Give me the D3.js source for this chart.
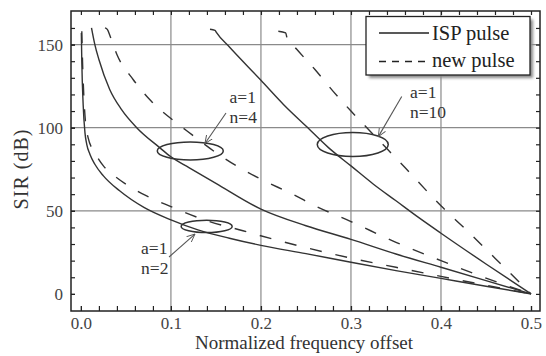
<!DOCTYPE html>
<html>
<head>
<meta charset="utf-8">
<script src="https://cdn.jsdelivr.net/npm/d3@7"></script>
<style>
  body { margin: 0; background: #fff; }
  text { font-family: "Liberation Serif", "Times New Roman", serif; }
</style>
</head>
<body>
<div id="chart"></div>
<script>
// SIR (dB) vs normalized frequency offset
var ispN2 = [[0.0005,157],[0.001,140],[0.0025,114],[0.0045,97],[0.0065,90],[0.01,84],[0.0155,78],[0.025,71],[0.043,62],[0.07,52],[0.1,44.5],[0.13,38.5],[0.165,33.5],[0.2,29.2],[0.25,24.2],[0.3,19],[0.35,14],[0.4,9.3],[0.45,4.6],[0.5,0]];
var newN2 = [[0.001,158],[0.0018,140],[0.003,122],[0.005,104],[0.008,94],[0.0155,85],[0.025,77],[0.035,72],[0.05,66],[0.073,59],[0.1,52.5],[0.14,44],[0.18,38],[0.213,33],[0.25,27.8],[0.3,21.5],[0.35,16],[0.4,10.5],[0.45,5.2],[0.5,0]];
var ispN4 = [[0.0118,160],[0.0155,150],[0.02,141],[0.032,123],[0.045,111],[0.062,100],[0.0875,88],[0.1,82.5],[0.12,76],[0.15,66.5],[0.2,51],[0.25,41],[0.3,32.8],[0.35,24],[0.4,16],[0.45,8],[0.5,0]];
var newN4 = [[0.0268,160],[0.0295,159],[0.0325,155],[0.04,144],[0.058,129],[0.078,116],[0.1,105.5],[0.124,95.5],[0.15,85],[0.176,76],[0.2,69],[0.235,60],[0.26,53],[0.3,43.5],[0.35,31],[0.4,20],[0.45,9.5],[0.5,0]];
var ispN10 = [[0.1434,159.2],[0.149,158.6],[0.1505,157.3],[0.165,148.5],[0.2,128.5],[0.225,114],[0.25,101],[0.275,88],[0.3,77],[0.325,66],[0.35,56],[0.375,46],[0.4,36.5],[0.45,18],[0.5,0]];
var newN10 = [[0.2193,158],[0.2275,157],[0.229,154],[0.24,147],[0.26,135],[0.28,122],[0.3,110],[0.33,93],[0.36,76],[0.4,53],[0.43,37.5],[0.46,21.5],[0.5,0]];

var xTicks = [0, 0.1, 0.2, 0.3, 0.4, 0.5];
var xTickLabels = ["0.0", "0.1", "0.2", "0.3", "0.4", "0.5"];
var yTicks = [0, 50, 100, 150];
var xGrid = [0.1, 0.2, 0.3, 0.4];
var yGrid = [50, 100, 150];

var legendNames = ["ISP pulse", "new pulse"];
// annotations: ellipse centre, label position, arrow tail and tip (data units)
var notes = [
  { lines: ["a=1", "n=2"], ellipse: [0.1397, 40.6], label: [0.0668, 24.0], from: [0.0979, 22.2], to: [0.1267, 36.0] },
  { lines: ["a=1", "n=4"], ellipse: [0.1215, 86], label: [0.1651, 114.6], from: [0.1612, 108.8], to: [0.1378, 90.5] },
  { lines: ["a=1", "n=10"], ellipse: [0.302, 89.9], label: [0.3656, 117.6], from: [0.3564, 118.7], to: [0.3304, 94.6] }
];
var ellipseSize = [[25.5, 6.2], [33, 9], [35.5, 12]];

var W = 546, H = 356;
var margin = { top: 11, right: 6, bottom: 45, left: 71 };
var width = W - margin.left - margin.right;
var height = H - margin.top - margin.bottom;

var svg = d3.select("#chart").append("svg")
    .attr("width", W)
    .attr("height", H);

var defs = svg.append("defs");
defs.append("filter").attr("id", "shadow")
    .attr("x", "-10%").attr("y", "-10%").attr("width", "130%").attr("height", "140%")
    .append("feGaussianBlur").attr("stdDeviation", 1.6);
defs.append("marker")
    .attr("id", "arrow")
    .attr("viewBox", "0 -5 10 10")
    .attr("refX", 9).attr("refY", 0)
    .attr("markerWidth", 9).attr("markerHeight", 9)
    .attr("markerUnits", "userSpaceOnUse")
    .attr("orient", "auto")
    .append("path")
    .attr("d", "M0,-4L9,0L0,4")
    .attr("fill", "none")
    .attr("stroke", "#555")
    .attr("stroke-width", 1);

var g = svg.append("g")
    .attr("transform", "translate(" + margin.left + "," + margin.top + ")");

var x = d3.scaleLinear().domain([-0.011, 0.51]).range([0, width]);
var y = d3.scaleLinear().domain([-10.3, 170.2]).range([height, 0]);

// grid
g.selectAll(".vgrid").data(xGrid).enter().append("line")
    .attr("x1", function (d) { return x(d); }).attr("x2", function (d) { return x(d); })
    .attr("y1", 0).attr("y2", height)
    .attr("stroke", "#8a8a8a").attr("stroke-width", 1.2);
g.selectAll(".hgrid").data(yGrid).enter().append("line")
    .attr("y1", function (d) { return y(d); }).attr("y2", function (d) { return y(d); })
    .attr("x1", 0).attr("x2", width)
    .attr("stroke", "#8a8a8a").attr("stroke-width", 1.2);

// axes, ticks pointing inward
var minorX = d3.range(0, 0.501, 0.02);
var minorY = d3.range(0, 161, 10);

function styleAxis(sel) {
    sel.select(".domain").remove();
    sel.selectAll("line").attr("stroke", "#222").attr("stroke-width", 1.2);
    sel.selectAll("text")
        .style("font-family", "'Liberation Serif', serif")
        .style("font-size", "17px")
        .attr("fill", "#444");
}

g.append("g").attr("transform", "translate(0," + height + ")")
    .call(d3.axisBottom(x).tickValues(minorX).tickSize(-5).tickFormat(""))
    .call(styleAxis);
g.append("g").attr("transform", "translate(0," + height + ")")
    .call(d3.axisBottom(x).tickValues(xTicks).tickSize(-5).tickPadding(6)
        .tickFormat(function (d, i) { return xTickLabels[i]; }))
    .call(styleAxis);
g.append("g")
    .call(d3.axisTop(x).tickValues(minorX).tickSize(-4).tickFormat(""))
    .call(styleAxis);
g.append("g")
    .call(d3.axisLeft(y).tickValues(minorY).tickSize(-4).tickFormat(""))
    .call(styleAxis);
g.append("g")
    .call(d3.axisLeft(y).tickValues(yTicks).tickSize(-4).tickPadding(8).tickFormat(d3.format("d")))
    .call(styleAxis);
g.append("g").attr("transform", "translate(" + width + ",0)")
    .call(d3.axisRight(y).tickValues(minorY).tickSize(-4).tickFormat(""))
    .call(styleAxis);

// curves
var line = d3.line()
    .x(function (d) { return x(d[0]); })
    .y(function (d) { return y(d[1]); })
    .curve(d3.curveMonotoneX);

var series = [
    { data: ispN2, dash: null }, { data: ispN4, dash: null }, { data: ispN10, dash: null },
    { data: newN2, dash: "12,14" }, { data: newN4, dash: "12,14" }, { data: newN10, dash: "12,14" }
];
g.selectAll(".curve").data(series).enter().append("path")
    .attr("d", function (d) { return line(d.data); })
    .attr("fill", "none")
    .attr("stroke", "#333")
    .attr("stroke-width", 1.4)
    .attr("stroke-dasharray", function (d) { return d.dash; });

// ellipses, arrows and labels
g.selectAll(".ring").data(notes).enter().append("ellipse")
    .attr("cx", function (d) { return x(d.ellipse[0]); })
    .attr("cy", function (d) { return y(d.ellipse[1]); })
    .attr("rx", function (d, i) { return ellipseSize[i][0]; })
    .attr("ry", function (d, i) { return ellipseSize[i][1]; })
    .attr("fill", "none")
    .attr("stroke", "#333")
    .attr("stroke-width", 1.5);

g.selectAll(".arrow").data(notes).enter().append("line")
    .attr("x1", function (d) { return x(d.from[0]); })
    .attr("y1", function (d) { return y(d.from[1]); })
    .attr("x2", function (d) { return x(d.to[0]); })
    .attr("y2", function (d) { return y(d.to[1]); })
    .attr("stroke", "#555")
    .attr("stroke-width", 1.1)
    .attr("marker-end", "url(#arrow)");

var lbl = g.selectAll(".note").data(notes).enter().append("text")
    .attr("x", function (d) { return x(d.label[0]); })
    .attr("y", function (d) { return y(d.label[1]); })
    .style("font-size", "17.5px")
    .attr("fill", "#333");
lbl.selectAll("tspan").data(function (d) { return d.lines; }).enter().append("tspan")
    .attr("x", function () { return d3.select(this.parentNode).attr("x"); })
    .attr("dy", function (d, i) { return i ? 20 : 0; })
    .text(function (d) { return d; });

// frame
g.append("rect")
    .attr("width", width).attr("height", height)
    .attr("fill", "none")
    .attr("stroke", "#222")
    .attr("stroke-width", 1.5);

// legend
var lg = g.append("g").attr("transform", "translate(" + (width - 174) + ",5.5)");
lg.append("rect")
    .attr("x", 3).attr("y", 3).attr("width", 164).attr("height", 58.5)
    .attr("fill", "#888").attr("filter", "url(#shadow)");
lg.append("rect")
    .attr("width", 164).attr("height", 58.5)
    .attr("fill", "#fff").attr("stroke", "#222").attr("stroke-width", 1.3);
lg.selectAll(".ls").data(legendNames).enter().append("line")
    .attr("x1", 13).attr("x2", 63)
    .attr("y1", function (d, i) { return 16.5 + i * 28.5; })
    .attr("y2", function (d, i) { return 16.5 + i * 28.5; })
    .attr("stroke", "#222").attr("stroke-width", 1.3)
    .attr("stroke-dasharray", function (d, i) { return i ? "7,6" : null; });
lg.selectAll(".lt").data(legendNames).enter().append("text")
    .attr("x", 66)
    .attr("y", function (d, i) { return 23 + i * 27; })
    .style("font-size", "20.5px")
    .attr("fill", "#222")
    .text(function (d) { return d; });

// axis titles
svg.append("text")
    .attr("x", 304).attr("y", 349)
    .attr("text-anchor", "middle")
    .style("font-size", "19px")
    .attr("fill", "#333")
    .text("Normalized frequency offset");
svg.append("text")
    .attr("transform", "translate(28,169) rotate(-90)")
    .attr("text-anchor", "middle")
    .style("font-size", "20px")
    .style("letter-spacing", "1px")
    .attr("fill", "#333")
    .text("SIR (dB)");
</script>
</body>
</html>
